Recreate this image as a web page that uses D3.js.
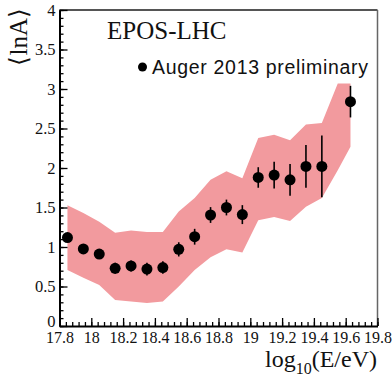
<!DOCTYPE html>
<html>
<head>
<meta charset="utf-8">
<script src="https://cdn.jsdelivr.net/npm/d3@7"></script>
<style>
  html, body { margin: 0; padding: 0; background: #fff; }
  svg { display: block; }
</style>
</head>
<body>
<svg id="chart" width="392" height="379"></svg>
<script>
// ---- data ----
const energy = [17.85, 17.95, 18.05, 18.15, 18.25, 18.35, 18.45, 18.55, 18.65, 18.75, 18.85, 18.95, 19.05, 19.15, 19.25, 19.35, 19.45, 19.63];
const lnA    = [1.12, 0.975, 0.91, 0.73, 0.76, 0.72, 0.74, 0.97, 1.13, 1.405, 1.50, 1.41, 1.88, 1.91, 1.85, 2.02, 2.02, 2.84];
const lnAErr = [0.05, 0.05, 0.05, 0.07, 0.07, 0.08, 0.08, 0.09, 0.10, 0.10, 0.10, 0.12, 0.13, 0.17, 0.20, 0.27, 0.39, 0.20];

const bandE    = [17.85, 17.95, 18.05, 18.15, 18.25, 18.35, 18.45, 18.55, 18.65, 18.75, 18.85, 18.95, 19.05, 19.15, 19.25, 19.35, 19.45, 19.55, 19.63];
const bandHigh = [1.53, 1.43, 1.32, 1.18, 1.21, 1.19, 1.19, 1.45, 1.62, 1.85, 1.96, 1.87, 2.38, 2.42, 2.35, 2.55, 2.57, 3.07, 3.07];
const bandLow  = [0.71, 0.61, 0.52, 0.33, 0.31, 0.29, 0.31, 0.50, 0.71, 0.87, 0.97, 0.93, 1.34, 1.38, 1.33, 1.51, 1.62, 1.97, 2.27];

const xMajorTicks = d3.range(0, 11).map(i => +(17.8 + i * 0.2).toFixed(2));
const xMinorTicks = d3.range(0, 51).map(i => +(17.8 + i * 0.04).toFixed(2));
const yMajorTicks = d3.range(0, 9).map(i => i * 0.5);
const yMinorTicks = d3.range(0, 41).map(i => +(i * 0.1).toFixed(2));

const modelLabel = "EPOS-LHC";
const legendLabel = "Auger 2013 preliminary";

// ---- layout ----
const svg = d3.select("#chart");
const x = d3.scaleLinear().domain([17.8, 19.8]).range([59.5, 377.5]);
const y = d3.scaleLinear().domain([0, 4]).range([326, 10]);
const serif = "'Liberation Serif', 'Times New Roman', serif";
const sans = "'Liberation Sans', Arial, Helvetica, sans-serif";

// band
const bandData = bandE.map((e, i) => ({ e, lo: bandLow[i], hi: bandHigh[i] }));
svg.append("path")
  .datum(bandData)
  .attr("fill", "#f29a9e")
  .attr("stroke", "none")
  .attr("d", d3.area().x(d => x(d.e)).y0(d => y(d.lo)).y1(d => y(d.hi)));

// frame (top & right)
svg.append("line").attr("x1", x(17.8)).attr("x2", x(19.8)).attr("y1", y(4)).attr("y2", y(4))
  .attr("stroke", "#555").attr("stroke-width", 2);
svg.append("line").attr("x1", x(19.8)).attr("x2", x(19.8)).attr("y1", y(4)).attr("y2", y(0))
  .attr("stroke", "#666").attr("stroke-width", 1.5);

// x axis
const gx = svg.append("g").attr("transform", `translate(0,${y(0)})`);
gx.append("g").call(d3.axisBottom(x).tickValues(xMinorTicks).tickSize(-4).tickFormat(""))
  .call(g => g.select(".domain").remove())
  .selectAll("line").attr("stroke", "#000").attr("stroke-width", 1.3);
gx.append("g").call(d3.axisBottom(x).tickValues(xMajorTicks).tickSizeInner(-8).tickSizeOuter(0).tickPadding(6).tickFormat(d3.format("")))
  .call(g => g.select(".domain").attr("stroke", "#000").attr("stroke-width", 2))
  .call(g => g.selectAll("line").attr("stroke", "#000").attr("stroke-width", 1.3))
  .call(g => g.selectAll("text").attr("font-family", serif).attr("font-size", 16).attr("fill", "#111"));

// y axis
const gy = svg.append("g").attr("transform", `translate(${x(17.8)},0)`);
gy.append("g").call(d3.axisLeft(y).tickValues(yMinorTicks).tickSize(-4).tickFormat(""))
  .call(g => g.select(".domain").remove())
  .selectAll("line").attr("stroke", "#000").attr("stroke-width", 1.3);
gy.append("g").call(d3.axisLeft(y).tickValues(yMajorTicks).tickSizeInner(-8).tickSizeOuter(0).tickPadding(4).tickFormat(d3.format("")))
  .call(g => g.select(".domain").attr("stroke", "#000").attr("stroke-width", 2))
  .call(g => g.selectAll("line").attr("stroke", "#000").attr("stroke-width", 1.3))
  .call(g => g.selectAll("text").attr("font-family", serif).attr("font-size", 16.5).attr("fill", "#111"))
  .call(g => g.selectAll("text").filter(d => d === 0).attr("dy", "0.02em"));

// error bars
const pts = energy.map((e, i) => ({ e, v: lnA[i], err: lnAErr[i] }));
svg.append("g").selectAll("line").data(pts).join("line")
  .attr("x1", d => x(d.e)).attr("x2", d => x(d.e))
  .attr("y1", d => y(d.v - d.err)).attr("y2", d => y(d.v + d.err))
  .attr("stroke", "#000").attr("stroke-width", 1.6);
// markers
svg.append("g").selectAll("circle").data(pts).join("circle")
  .attr("cx", d => x(d.e)).attr("cy", d => y(d.v)).attr("r", 5.5).attr("fill", "#000");

// model label
svg.append("text").attr("x", 107).attr("y", 38.5)
  .attr("font-family", serif).attr("font-size", 25).attr("fill", "#111").text(modelLabel);

// legend
svg.append("circle").attr("cx", 142.5).attr("cy", 67).attr("r", 4.5).attr("fill", "#000");
svg.append("text").attr("x", 152).attr("y", 74)
  .attr("font-family", sans).attr("font-size", 19.5).attr("fill", "#111")
  .attr("textLength", 216).attr("lengthAdjust", "spacing").text(legendLabel);

// x title
const xt = svg.append("text").attr("x", 377).attr("y", 367).attr("text-anchor", "end")
  .attr("font-family", serif).attr("font-size", 24).attr("fill", "#111");
xt.append("tspan").text("log");
xt.append("tspan").attr("font-size", 16).attr("dy", 7).text("10");
xt.append("tspan").attr("dy", -7).text("(E/eV)");

// y title
svg.append("text").attr("transform", "translate(27,8) rotate(-90)").attr("text-anchor", "end")
  .attr("font-family", serif).attr("font-size", 25).attr("fill", "#111").text("⟨lnA⟩");
</script>
</body>
</html>
